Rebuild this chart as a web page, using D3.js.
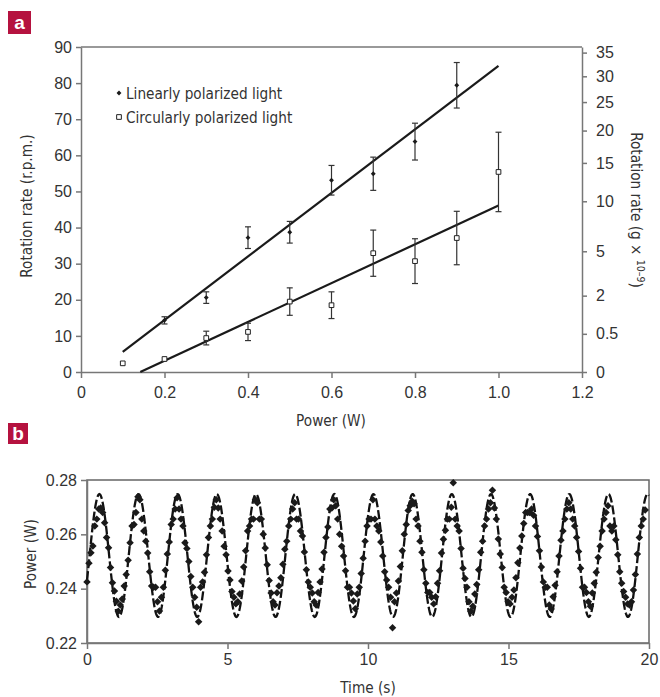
<!DOCTYPE html>
<html lang="en">
<head>
	<meta charset="UTF-8">
	<title>Rotation rate and power</title>
	<script src="https://cdn.jsdelivr.net/npm/d3@7/dist/d3.min.js"></script>
	<style>
		body{
			margin:0;
			background:#fff;
		}
		svg{
			display:block;
			font-family:"Liberation Sans Narrow","DejaVu Sans Condensed","DejaVu Sans",sans-serif;
			font-stretch:condensed;
		}
		.axis text{
			font-size:16px;
			fill:#333;
		}
		.axis path,.axis line{
			stroke:#777;
			stroke-width:1.5;
		}
		.title{
			font-size:15.2px;
			fill:#333;
		}
		.badge{
			fill:#b5123f;
		}
		.badge-txt{
			fill:#fff;
			font-weight:bold;
			font-size:19px;
			font-stretch:normal;
			font-family:"Liberation Sans","Arial",sans-serif;
		}
	</style>
</head>
<body>
	<svg id="svg" width="660" height="697"></svg>
	<script>
		// panel a - linearly polarized light
		var linPower = [0.2,0.3,0.4,0.5,0.6,0.7,0.8,0.9];
		var linRate = [14.3,20.6,37.2,38.7,53.1,54.9,63.8,79.4];
		var linErr = [1.0,1.6,3.0,3.0,4.1,4.6,5.1,6.3];
		// panel a - circularly polarized light
		var circPower = [0.1,0.2,0.3,0.4,0.5,0.6,0.7,0.8,0.9,1.0];
		var circRate = [2.4,3.6,9.4,11.1,19.5,18.5,32.9,30.7,37.1,55.4];
		var circErr = [0,0,1.9,2.4,3.8,3.7,6.4,6.2,7.4,11.0];
		// fitted lines (end points)
		var linFitX = [0.1,1.0], linFitY = [5.6,84.8];
		var circFitX = [0.142,1.0], circFitY = [0,46.1];
		// axis ticks
		var xTicksA = [0,0.2,0.4,0.6,0.8,1.0,1.2];
		var yTicksA = [0,10,20,30,40,50,60,70,80,90];
		var gTicks = [0,0.5,2,5,10,15,20,25,30,35];
		var gMax = 36.24; // g x 1e-9 at 90 r.p.m.

		// panel b - measured power, one sample every powerDt seconds
		var powerDt = 0.0697;
		var powerW = [
			0.2425,0.2494,0.2532,0.2557,0.2631,0.2656,0.2693,0.2697,0.2680,0.2643,0.2588,0.2551,0.2478,0.2422,0.2391,0.2354,0.2317,0.2340,0.2362,0.2410,
			0.2452,0.2505,0.2569,0.2631,0.2636,0.2680,0.2738,0.2727,0.2656,0.2612,0.2575,0.2531,0.2462,0.2410,0.2405,0.2405,0.2352,0.2318,0.2368,0.2405,
			0.2468,0.2528,0.2572,0.2636,0.2656,0.2693,0.2735,0.2693,0.2656,0.2631,0.2569,0.2548,0.2500,0.2445,0.2405,0.2368,0.2332,0.2278,0.2405,0.2425,
			0.2460,0.2525,0.2588,0.2631,0.2656,0.2700,0.2727,0.2697,0.2656,0.2612,0.2556,0.2525,0.2465,0.2432,0.2390,0.2368,0.2344,0.2352,0.2380,0.2428,
			0.2480,0.2540,0.2612,0.2631,0.2656,0.2656,0.2727,0.2716,0.2656,0.2656,0.2600,0.2550,0.2488,0.2430,0.2384,0.2352,0.2340,0.2385,0.2410,0.2440,
			0.2490,0.2545,0.2575,0.2631,0.2656,0.2693,0.2716,0.2656,0.2656,0.2612,0.2594,0.2535,0.2470,0.2425,0.2405,0.2384,0.2352,0.2340,0.2386,0.2425,
			0.2472,0.2534,0.2588,0.2627,0.2693,0.2697,0.2727,0.2705,0.2656,0.2600,0.2556,0.2520,0.2466,0.2405,0.2405,0.2384,0.2355,0.2326,0.2380,0.2405,
			0.2456,0.2512,0.2575,0.2631,0.2656,0.2656,0.2727,0.2656,0.2631,0.2612,0.2572,0.2520,0.2462,0.2432,0.2405,0.2368,0.2256,0.2352,0.2384,0.2428,
			0.2482,0.2540,0.2600,0.2636,0.2688,0.2705,0.2722,0.2713,0.2656,0.2631,0.2575,0.2534,0.2470,0.2420,0.2386,0.2386,0.2368,0.2344,0.2370,0.2420,
			0.2466,0.2531,0.2582,0.2615,0.2656,0.2656,0.2700,0.2790,0.2656,0.2631,0.2612,0.2548,0.2475,0.2437,0.2405,0.2352,0.2317,0.2335,0.2380,0.2415,
			0.2470,0.2534,0.2575,0.2631,0.2656,0.2693,0.2716,0.2762,0.2697,0.2656,0.2583,0.2528,0.2478,0.2405,0.2386,0.2352,0.2344,0.2368,0.2395,0.2440,
			0.2495,0.2550,0.2594,0.2640,0.2680,0.2680,0.2680,0.2693,0.2670,0.2631,0.2592,0.2540,0.2480,0.2425,0.2405,0.2405,0.2340,0.2325,0.2370,0.2413,
			0.2462,0.2520,0.2578,0.2612,0.2656,0.2693,0.2716,0.2693,0.2656,0.2631,0.2588,0.2537,0.2475,0.2405,0.2405,0.2386,0.2352,0.2335,0.2384,0.2420,
			0.2460,0.2515,0.2556,0.2612,0.2656,0.2680,0.2705,0.2631,0.2612,0.2631,0.2580,0.2525,0.2462,0.2420,0.2390,0.2368,0.2344,0.2340,0.2352,0.2395,
			0.2452,0.2528,0.2588,0.2631,0.2656,0.2690
		];
		// sinusoidal fit (dashed line)
		var fitOffset = 0.2522, fitAmp = 0.0226, fitPeriod = 1.3936, fitPeakT = 0.44;
		var xTicksB = [0,5,10,15,20];
		var yTicksB = [0.22,0.24,0.26,0.28];

		var svg = d3.select("#svg");

		// ---------- panel a ----------
		var xA = d3.scaleLinear().domain([0,1.2]).range([81,582]);
		var yA = d3.scaleLinear().domain([0,90]).range([372,47]);
		var yG = d3.scaleSqrt().domain([0,gMax]).range([372,47]);

		var ga = svg.append("g");
		ga.append("rect").attr("class","badge").attr("x",8).attr("y",11).attr("width",23).attr("height",23);
		ga.append("text").attr("class","badge-txt").attr("x",19.5).attr("y",29).attr("text-anchor","middle").text("a");

		ga.append("g").attr("class","axis")
			.attr("transform","translate(0,372)")
			.call(d3.axisBottom(xA).tickValues(xTicksA).tickSizeInner(6).tickSizeOuter(0).tickPadding(9)
				.tickFormat(d=>d===0?"0":d3.format(".1f")(d)));
		ga.append("g").attr("class","axis")
			.attr("transform","translate(81,0)")
			.call(d3.axisLeft(yA).tickValues(yTicksA).tickSizeInner(5).tickSizeOuter(0).tickPadding(4));
		ga.append("g").attr("class","axis")
			.attr("transform","translate(582,0)")
			.call(d3.axisRight(yG).tickValues(gTicks).tickSizeInner(5).tickSizeOuter(0).tickPadding(9)
				.tickFormat(d3.format("")));
		ga.append("line").attr("x1",81).attr("x2",582).attr("y1",47).attr("y2",47)
			.attr("stroke","#777").attr("stroke-width",1.5);

		// fitted lines
		var line = d3.line().x(d=>xA(d[0])).y(d=>yA(d[1]));
		ga.append("path").datum(d3.zip(linFitX,linFitY)).attr("d",line)
			.attr("stroke","#1a1a1a").attr("stroke-width",2.2).attr("fill","none");
		ga.append("path").datum(d3.zip(circFitX,circFitY)).attr("d",line)
			.attr("stroke","#1a1a1a").attr("stroke-width",2.2).attr("fill","none");

		function errBars(xs,ys,es){
			var d = d3.zip(xs,ys,es).filter(v=>v[2]>0);
			var g = ga.append("g").attr("stroke","#333").attr("stroke-width",1.2);
			g.selectAll(".ev").data(d).enter().append("line")
				.attr("x1",v=>xA(v[0])).attr("x2",v=>xA(v[0]))
				.attr("y1",v=>yA(v[1]-v[2])).attr("y2",v=>yA(v[1]+v[2]));
			g.selectAll(".et").data(d).enter().append("line")
				.attr("x1",v=>xA(v[0])-3).attr("x2",v=>xA(v[0])+3)
				.attr("y1",v=>yA(v[1]+v[2])).attr("y2",v=>yA(v[1]+v[2]));
			g.selectAll(".eb").data(d).enter().append("line")
				.attr("x1",v=>xA(v[0])-3).attr("x2",v=>xA(v[0])+3)
				.attr("y1",v=>yA(v[1]-v[2])).attr("y2",v=>yA(v[1]-v[2]));
		}
		errBars(linPower,linRate,linErr);
		errBars(circPower,circRate,circErr);

		var diamondA = d3.symbol(d3.symbolSquare,12);
		var squareA = d3.symbol(d3.symbolSquare,22);
		ga.selectAll(".lin").data(d3.zip(linPower,linRate)).enter().append("path")
			.attr("d",diamondA)
			.attr("transform",d=>"translate("+xA(d[0])+","+yA(d[1])+") rotate(45)")
			.attr("fill","#1a1a1a");
		ga.selectAll(".circ").data(d3.zip(circPower,circRate)).enter().append("path")
			.attr("d",squareA)
			.attr("transform",d=>"translate("+xA(d[0])+","+yA(d[1])+")")
			.attr("fill","#fff").attr("stroke","#222").attr("stroke-width",1);

		// legend
		ga.append("path").attr("d",diamondA).attr("transform","translate(119,93) rotate(45)").attr("fill","#1a1a1a");
		ga.append("text").attr("class","title").attr("x",126).attr("y",99).text("Linearly polarized light");
		ga.append("path").attr("d",squareA).attr("transform","translate(119,117)")
			.attr("fill","#fff").attr("stroke","#222").attr("stroke-width",1);
		ga.append("text").attr("class","title").attr("x",126).attr("y",123).text("Circularly polarized light");

		// axis titles
		ga.append("text").attr("class","title").attr("text-anchor","middle")
			.attr("x",331).attr("y",426).text("Power (W)");
		ga.append("text").attr("class","title").attr("text-anchor","middle")
			.attr("transform","translate(32,206) rotate(-90)").text("Rotation rate (r.p.m.)");
		var rt = ga.append("text").attr("class","title").attr("text-anchor","middle")
			.attr("transform","translate(631,210) rotate(90)");
		rt.append("tspan").text("Rotation rate (g \u00d7 ");
		rt.append("tspan").attr("font-size","10.5px").attr("dy","-6").text("10\u20139");
		rt.append("tspan").attr("dy","6").text(")");

		// ---------- panel b ----------
		var xB = d3.scaleLinear().domain([0,20]).range([87,649]);
		var yB = d3.scaleLinear().domain([0.22,0.28]).range([643,480]);

		var gb = svg.append("g");
		gb.append("rect").attr("class","badge").attr("x",8).attr("y",423).attr("width",20).attr("height",21);
		gb.append("text").attr("class","badge-txt").attr("x",18).attr("y",440).attr("text-anchor","middle").text("b");

		gb.append("rect").attr("x",87).attr("y",480).attr("width",562).attr("height",163)
			.attr("fill","none").attr("stroke","#666").attr("stroke-width",1.5);
		gb.append("g").attr("class","axis")
			.attr("transform","translate(0,643)")
			.call(d3.axisBottom(xB).tickValues(xTicksB).tickSizeInner(6).tickSizeOuter(0).tickPadding(5))
			.call(g=>g.select(".domain").attr("stroke","#222"));
		gb.append("g").attr("class","axis")
			.attr("transform","translate(87,0)")
			.call(d3.axisLeft(yB).tickValues(yTicksB).tickSizeInner(6).tickSizeOuter(0).tickPadding(4)
				.tickFormat(d3.format(".2f")))
			.call(g=>g.select(".domain").attr("stroke","#333"));

		var fitT = d3.range(0,20.0001,0.02);
		var fitLine = d3.line()
			.x(t=>xB(t))
			.y(t=>yB(fitOffset+fitAmp*Math.cos(2*Math.PI*(t-fitPeakT)/fitPeriod)));
		gb.append("path").datum(fitT).attr("d",fitLine)
			.attr("fill","none").attr("stroke","#111").attr("stroke-width",2.3)
			.attr("stroke-dasharray","9,3");

		var diamondB = d3.symbol(d3.symbolSquare,28);
		gb.selectAll(".pt").data(powerW).enter().append("path")
			.attr("d",diamondB)
			.attr("transform",(d,i)=>"translate("+xB(i*powerDt)+","+yB(d)+") rotate(45)")
			.attr("fill","#1a1a1a");

		gb.append("text").attr("class","title").attr("text-anchor","middle")
			.attr("x",368).attr("y",693).text("Time (s)");
		gb.append("text").attr("class","title").attr("text-anchor","middle")
			.attr("transform","translate(36,554) rotate(-90)").text("Power (W)");
	</script>
</body>
</html>
